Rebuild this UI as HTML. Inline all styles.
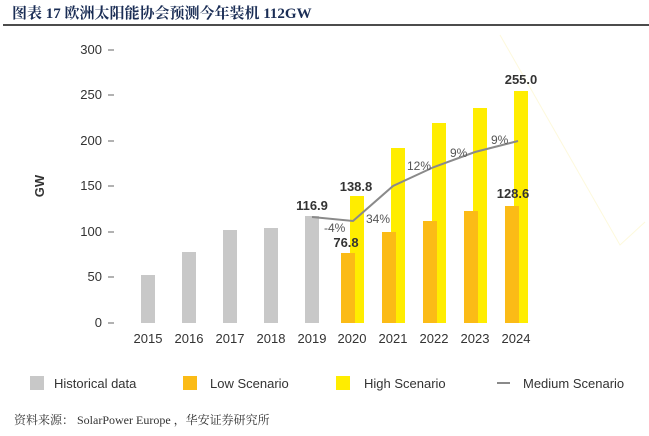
<!DOCTYPE html>
<html><head><meta charset="utf-8"><style>
body{margin:0;background:#fff;width:649px;height:431px;overflow:hidden}
svg text{font-family:"Liberation Sans",Arial,sans-serif}
</style></head><body>
<svg width="649" height="431" viewBox="0 0 649 431" xmlns="http://www.w3.org/2000/svg">
<text x="12" y="18" font-size="15" font-weight="bold" fill="#1a2d55" style="font-family:'Liberation Serif','Noto Serif CJK SC',serif">图表 17 欧洲太阳能协会预测今年装机 112GW</text>
<line x1="3" y1="25" x2="649" y2="25" stroke="#111" stroke-width="1.5"/>
<polyline points="500,35 620,245 645,222" fill="none" stroke="#fdf9dc" stroke-width="1"/>
<g font-size="13" fill="#333" text-anchor="end">
<text x="102" y="54">300</text><text x="102" y="99">250</text><text x="102" y="145">200</text>
<text x="102" y="190">150</text><text x="102" y="236">100</text><text x="102" y="281">50</text><text x="102" y="327">0</text>
</g>
<g stroke="#666" stroke-width="1">
<line x1="108" y1="50" x2="114" y2="50"/><line x1="108" y1="95" x2="114" y2="95"/><line x1="108" y1="141" x2="114" y2="141"/>
<line x1="108" y1="186" x2="114" y2="186"/><line x1="108" y1="232" x2="114" y2="232"/><line x1="108" y1="277" x2="114" y2="277"/><line x1="108" y1="323" x2="114" y2="323"/>
</g>
<text x="44" y="186" font-size="13" font-weight="bold" fill="#333" transform="rotate(-90 44 186)" text-anchor="middle">GW</text>
<g fill="#c8c8c8">
<rect x="141" y="275" width="14" height="48"/><rect x="182" y="252" width="14" height="71"/>
<rect x="223" y="230" width="14" height="93"/><rect x="264" y="228" width="14" height="95"/>
<rect x="305" y="216" width="14" height="107"/>
</g>
<g fill="#ffed00">
<rect x="350" y="196" width="14" height="127"/><rect x="391" y="148" width="14" height="175"/>
<rect x="432" y="123" width="14" height="200"/><rect x="473" y="108" width="14" height="215"/>
<rect x="514" y="91" width="14" height="232"/>
</g>
<g fill="#fbbb16">
<rect x="341" y="253" width="14" height="70"/><rect x="382" y="232" width="14" height="91"/>
<rect x="423" y="221" width="14" height="102"/><rect x="464" y="211" width="14" height="112"/>
<rect x="505" y="206" width="14" height="117"/>
</g>
<polyline points="312,217 353,221 393,186 434,167 475,152 518,141" fill="none" stroke="#8a8a8a" stroke-width="2"/>
<g font-size="12" fill="#555">
<text x="324" y="232">-4%</text><text x="366" y="223">34%</text><text x="407" y="170">12%</text>
<text x="450" y="157">9%</text><text x="491" y="144">9%</text>
</g>
<g font-size="13" font-weight="bold" fill="#333" text-anchor="middle">
<text x="312" y="210">116.9</text><text x="356" y="191">138.8</text><text x="346" y="247">76.8</text>
<text x="513" y="198">128.6</text><text x="521" y="84">255.0</text>
</g>
<g font-size="13" fill="#333" text-anchor="middle">
<text x="148" y="343">2015</text><text x="189" y="343">2016</text><text x="230" y="343">2017</text><text x="271" y="343">2018</text><text x="312" y="343">2019</text>
<text x="352" y="343">2020</text><text x="393" y="343">2021</text><text x="434" y="343">2022</text><text x="475" y="343">2023</text><text x="516" y="343">2024</text>
</g>
<rect x="30" y="376" width="14" height="14" fill="#c8c8c8"/>
<text x="54" y="388" font-size="13" fill="#333">Historical data</text>
<rect x="183" y="376" width="14" height="14" fill="#fbbb16"/>
<text x="210" y="388" font-size="13" fill="#333">Low Scenario</text>
<rect x="336" y="376" width="14" height="14" fill="#ffed00"/>
<text x="364" y="388" font-size="13" fill="#333">High Scenario</text>
<line x1="497" y1="383" x2="510" y2="383" stroke="#8a8a8a" stroke-width="2"/>
<text x="523" y="388" font-size="13" fill="#333">Medium Scenario</text>
<text x="14" y="424" font-size="12" fill="#333" style="font-family:'Liberation Serif','Noto Serif CJK SC',serif">资料来源：  SolarPower Europe  ，华安证券研究所</text>
</svg>
</body></html>
